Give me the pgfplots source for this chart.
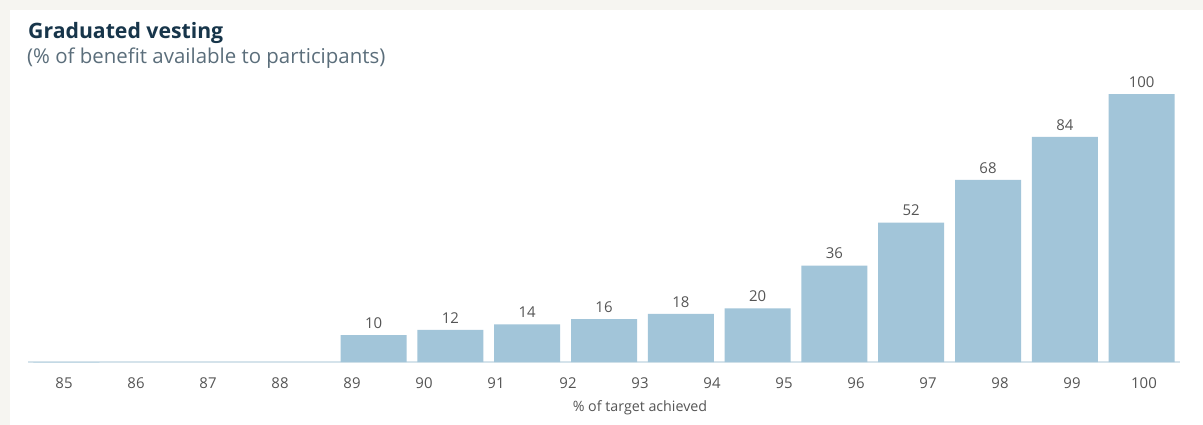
\documentclass[border=0pt]{standalone}
\usepackage{fontspec}
\setmainfont{Open Sans}
\usepackage{pgfplots}
\pgfplotsset{compat=1.18}

\definecolor{pagebg}{HTML}{F6F5F1}
\definecolor{barblue}{HTML}{A2C5D9}
\definecolor{axisline}{HTML}{D5E3EB}
\definecolor{titlec}{HTML}{17354A}
\definecolor{subc}{HTML}{5B6E7B}
\definecolor{tickc}{HTML}{555555}

\begin{document}
\begin{tikzpicture}
% page background and white card
\fill[pagebg] (0,0) rectangle (1203bp,-425bp);
\fill[white] (10bp,-10bp) rectangle (1203bp,-425bp);
\path[use as bounding box] (0,0) rectangle (1203bp,-425bp);

\node[anchor=base west, inner sep=0pt, text=titlec,
      font=\fontsize{21.3}{25}\selectfont\bfseries] at (28bp,-38bp) {Graduated vesting};
\node[anchor=base west, inner sep=0pt, text=subc,
      font=\fontsize{20.5}{25}\selectfont] at (27bp,-63bp) {(\% of benefit available to participants)};

% bars sit on 15 bands, tick labels on 16 (as in the original)
\begin{axis}[
    at={(28bp,-362bp)},
    anchor=south west,
    scale only axis,
    width=1152bp,
    height=268bp,
    ybar,
    bar width=66bp,
    bar shift=0pt,
    xmin=0, xmax=15,
    ymin=0, ymax=100,
    axis x line*=bottom,
    axis y line=none,
    x axis line style={draw=axisline, line width=2bp},
    xtick={0.46875,1.40625,2.34375,3.28125,4.21875,5.15625,6.09375,7.03125,
           7.96875,8.90625,9.84375,10.78125,11.71875,12.65625,13.59375,14.53125},
    xticklabels={85,86,87,88,89,90,91,92,93,94,95,96,97,98,99,100},
    major tick length=0pt,
    ytick=\empty,
    /pgf/number format/assume math mode=true,
    tick label style={font=\fontsize{15}{18}\selectfont, text=tickc},
    xticklabel style={yshift=-12bp},
    xlabel={\% of target achieved},
    xlabel style={font=\fontsize{14.3}{17}\selectfont, text=tickc, yshift=-5bp, xshift=36bp},
    clip=false,
    every node near coord/.append style={font=\fontsize{15}{18}\selectfont, text=tickc, yshift=3bp},
]

% zero band at 85 (faint baseline only)
\addplot[fill=barblue, draw=barblue!70, line width=0.6bp] coordinates {(0.5,0)};

% labelled bars
\addplot[fill=barblue, draw=none, nodes near coords] coordinates {
    (4.5,10) (5.5,12) (6.5,14) (7.5,16) (8.5,18) (9.5,20)
    (10.5,36) (11.5,52) (12.5,68) (13.5,84) (14.5,100)
};
\end{axis}
\end{tikzpicture}
\end{document}
